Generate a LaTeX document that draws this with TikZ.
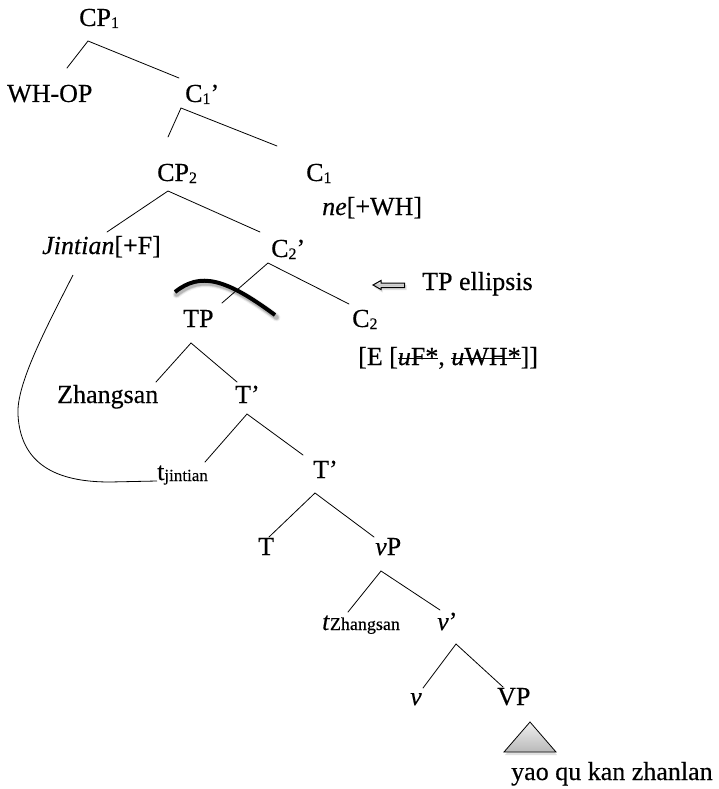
\documentclass[tikz,border=0pt]{standalone}
\usepackage{fontspec}
\setmainfont{Liberation Serif}[FakeBold=0.35]
\usetikzlibrary{shadows}
\newcommand\lowsub[1]{\raisebox{-2pt}{\fontsize{16}{16}\selectfont #1}}
\newcommand\smsub[1]{\raisebox{-1pt}{\fontsize{17}{17}\selectfont #1}}
\newsavebox\strkbox
\newcommand\strk[1]{\sbox\strkbox{#1}\rlap{\rule[6.5pt]{\wd\strkbox}{0.8pt}}\usebox\strkbox}
\begin{document}
\begin{tikzpicture}[x=1pt,y=-1pt,
  lbl/.style={anchor=base west,inner sep=0pt,font=\fontsize{26}{30}\selectfont},
  branch/.style={line width=0.8pt,line cap=round}]
\useasboundingbox (0,0) rectangle (719,789);

% labels of the tree
\node[lbl] (cp1)   at (79,26)   {CP\lowsub{1}};
\node[lbl] (whop)  at (7,102)   {WH-OP};
\node[lbl] (c1bar) at (185,102) {C\lowsub{1}’};
\node[lbl] (cp2)   at (157,181) {CP\lowsub{2}};
\node[lbl] (c1)    at (306,181) {C\lowsub{1}};
\node[lbl] (ne)    at (322,215) {\textit{ne}[+WH]};
\node[lbl] (jin)   at (42,254)  {\textit{Jintian}[+F]};
\node[lbl] (c2bar) at (271,257) {C\lowsub{2}’};
\node[lbl] (ell)   at (422,290) {TP ellipsis};
\node[lbl] (tp)    at (183,327) {TP};
\node[lbl] (c2)    at (352,327) {C\lowsub{2}};
\node[lbl] (feat)  at (358,365) {[E [\strk{\textit{u}F*}, \strk{\textit{u}WH*}]]};
\node[lbl] (zs)    at (57,403)  {Zhangsan};
\node[lbl] (tbara) at (235,403) {T’};
\node[lbl] (tj)    at (157,480) {t\smsub{jintian}};
\node[lbl] (tbarb) at (313,478) {T’};
\node[lbl] (t)     at (258,555) {T};
\node[lbl] (vp)    at (375,555) {\textit{v}P};
\node[lbl] (tz)    at (322,630) {\textit{t}{\fontsize{18}{18}\selectfont Zhangsan}};
\node[lbl] (vbar)  at (437,630) {\textit{v}’};
\node[lbl] (v)     at (410,705) {\textit{v}};
\node[lbl] (VP)    at (497,705) {VP};
\node[lbl] (yao)   at (511,780) {yao qu kan zhanlan};

% branch points below each mother and tips above each daughter
\coordinate (cp1-a)   at (88,41);
\coordinate (whop-t)  at (67,68);
\coordinate (c1bar-t) at (179,78);
\coordinate (c1bar-a) at (181,108);
\coordinate (cp2-t)   at (168,137);
\coordinate (c1-t)    at (277,146);
\coordinate (cp2-a)   at (168,191);
\coordinate (jin-t)   at (107,232);
\coordinate (c2bar-t) at (260,232);
\coordinate (c2bar-a) at (268,263);
\coordinate (tp-t)    at (222,303);
\coordinate (c2-t)    at (349,304);
\coordinate (tp-a)    at (191,343);
\coordinate (zs-t)    at (156,382);
\coordinate (tbara-t) at (237,382);
\coordinate (tbara-a) at (247,414);
\coordinate (tj-t)    at (205,462);
\coordinate (tbarb-t) at (303,455);
\coordinate (tbarb-a) at (315,493);
\coordinate (t-t)     at (269,537);
\coordinate (vp-t)    at (374,537);
\coordinate (vp-a)    at (381,571);
\coordinate (tz-t)    at (348,612);
\coordinate (vbar-t)  at (440,610);
\coordinate (vbar-a)  at (456,644);
\coordinate (v-t)     at (423,688);
\coordinate (VP-t)    at (503,687);

% branches
\draw[branch] (whop-t) -- (cp1-a) -- (c1bar-t);
\draw[branch] (cp2-t) -- (c1bar-a) -- (c1-t);
\draw[branch] (jin-t) -- (cp2-a) -- (c2bar-t);
\draw[branch] (tp-t) -- (c2bar-a) -- (c2-t);
\draw[branch] (zs-t) -- (tp-a) -- (tbara-t);
\draw[branch] (tj-t) -- (tbara-a) -- (tbarb-t);
\draw[branch] (t-t) -- (tbarb-a) -- (vp-t);
\draw[branch] (tz-t) -- (vp-a) -- (vbar-t);
\draw[branch] (v-t) -- (vbar-a) -- (VP-t);

% movement line from the trace up to Jintian
\coordinate (jin-m) at (73,275);
\coordinate (tj-m)  at (157,481);
\draw[line width=0.8pt] (jin-m) .. controls (45,330) and (16,385) .. (18,415)
  .. controls (21,470) and (65,482) .. (110,482) -- (tj-m);

% ellipsis arc with a soft shadow
\coordinate (arc-s) at (175,292);
\coordinate (arc-e) at (275,315);
\foreach \w/\o in {8/0.06,6/0.1,4.5/0.15}
  \draw[line width=\w pt,line cap=round,black,opacity=\o]
    ([shift={(1.5,2.5)}]arc-s) .. controls (201.5,274.5) and (226.5,280.5) .. ([shift={(1.5,2.5)}]arc-e);
\draw[line width=4pt] (arc-s) .. controls (200,272) and (225,278) .. (arc-e);

% hollow arrow pointing at the ellipsis site
\coordinate (arr-tip) at (373,285);
\fill[black,opacity=0.12] (374.5,287.5) -- (382.5,282.5) -- (382.5,285) -- (406.5,285) -- (406.5,290) -- (382.5,290) -- (382.5,292.5) -- cycle;
\draw[line width=1pt,line join=miter,top color=white,bottom color=white,middle color=gray!45]
  (arr-tip) -- (381,280.5) -- (381,283) -- (404.5,283) -- (404.5,287.5) -- (381,287.5) -- (381,289.5) -- cycle;

% triangle over VP
\coordinate (tri-a) at (530,722);
\coordinate (tri-l) at (504,752);
\coordinate (tri-r) at (556,752);
\fill[black,opacity=0.12] ([shift={(1,3)}]tri-a) -- ([shift={(1,3)}]tri-l) -- ([shift={(1,3)}]tri-r) -- cycle;
\draw[line width=0.8pt,top color=gray!12,bottom color=gray!55] (tri-a) -- (tri-l) -- (tri-r) -- cycle;
\end{tikzpicture}
\end{document}
